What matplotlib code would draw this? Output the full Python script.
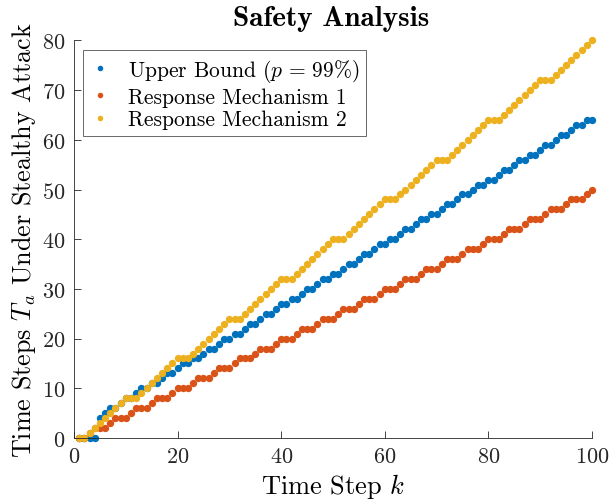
import matplotlib
matplotlib.use("Agg")
import matplotlib.pyplot as plt

# ---- data ----
k = list(range(1, 101))

upper_bound = [
    0, 0, 0, 0, 4, 5, 6, 6, 7, 8,
    8, 9, 10, 10, 11, 11, 12, 13, 13, 14,
    15, 15, 16, 16, 17, 18, 18, 19, 20, 20,
    21, 21, 22, 23, 23, 24, 25, 25, 26, 27,
    27, 28, 28, 29, 30, 30, 31, 32, 32, 33,
    33, 34, 35, 35, 36, 37, 37, 38, 39, 39,
    40, 40, 41, 42, 42, 43, 44, 44, 45, 45,
    46, 47, 47, 48, 49, 49, 50, 51, 51, 52,
    52, 53, 54, 54, 55, 56, 56, 57, 57, 58,
    59, 59, 60, 61, 61, 62, 63, 63, 64, 64,
]

mech1 = [
    0, 0, 1, 2, 2, 2, 3, 4, 4, 4,
    5, 6, 6, 6, 7, 8, 8, 8, 9, 10,
    10, 10, 11, 12, 12, 12, 13, 14, 14, 14,
    15, 16, 16, 16, 17, 18, 18, 18, 19, 20,
    20, 20, 21, 22, 22, 22, 23, 24, 24, 24,
    25, 26, 26, 26, 27, 28, 28, 28, 29, 30,
    30, 30, 31, 32, 32, 32, 33, 34, 34, 34,
    35, 36, 36, 36, 37, 38, 38, 38, 39, 40,
    40, 40, 41, 42, 42, 42, 43, 44, 44, 44,
    45, 46, 46, 46, 47, 48, 48, 48, 49, 50,
]

mech2 = [
    0, 0, 1, 2, 3, 4, 5, 6, 7, 8,
    8, 8, 9, 10, 11, 12, 13, 14, 15, 16,
    16, 16, 17, 18, 19, 20, 21, 22, 23, 24,
    24, 24, 25, 26, 27, 28, 29, 30, 31, 32,
    32, 32, 33, 34, 35, 36, 37, 38, 39, 40,
    40, 40, 41, 42, 43, 44, 45, 46, 47, 48,
    48, 48, 49, 50, 51, 52, 53, 54, 55, 56,
    56, 56, 57, 58, 59, 60, 61, 62, 63, 64,
    64, 64, 65, 66, 67, 68, 69, 70, 71, 72,
    72, 72, 73, 74, 75, 76, 77, 78, 79, 80,
]

labels = [r"Upper Bound ($p\,=\,99\%$)", "Response Mechanism 1", "Response Mechanism 2"]
colors = ["#0072BD", "#D95319", "#EDB120"]
x_ticks = [0, 20, 40, 60, 80, 100]
y_ticks = [0, 10, 20, 30, 40, 50, 60, 70, 80]

# ---- style ----
plt.rcParams["mathtext.fontset"] = "cm"
plt.rcParams["font.family"] = ["cmr10", "DejaVu Serif"]
plt.rcParams["axes.formatter.use_mathtext"] = True

fig = plt.figure(figsize=(6.13, 5.02), dpi=100)
ax = fig.add_axes([0.1207, 0.1255, 0.845, 0.792])

for ys, lab, c in zip([upper_bound, mech1, mech2], labels, colors):
    ax.plot(k, ys, linestyle="none", marker="o", markersize=5.3,
            markeredgewidth=0, color=c, label=lab, clip_on=False)

ax.set_xlim(0, 100)
ax.set_ylim(0, 80)
ax.set_xticks(x_ticks)
ax.set_yticks(y_ticks)
ax.tick_params(direction="in", length=5, width=0.6, labelsize=16, pad=6,
               colors="#262626")
for s in ["top", "right"]:
    ax.spines[s].set_visible(False)
for s in ["left", "bottom"]:
    ax.spines[s].set_linewidth(0.6)
    ax.spines[s].set_color("#262626")

ax.set_xlabel(r"Time Step $k$", fontsize=19, labelpad=4)
ax.set_ylabel(r"Time Steps $T_a$ Under Stealthy Attack", fontsize=18.8, labelpad=3)
fig.text(0.540, 0.962, "Safety Analysis", fontsize=21, fontfamily="cmb10",
         ha="center", va="center")

leg = ax.legend(loc="upper left", bbox_to_anchor=(0.017, 0.975), borderaxespad=0,
                fontsize=15.5, markerscale=0.75, handlelength=1.0, handletextpad=0.78,
                frameon=True, fancybox=False, edgecolor="#262626",
                borderpad=0.3, labelspacing=0.15)
leg.get_frame().set_linewidth(0.6)

fig.savefig("out.png", dpi=100)
